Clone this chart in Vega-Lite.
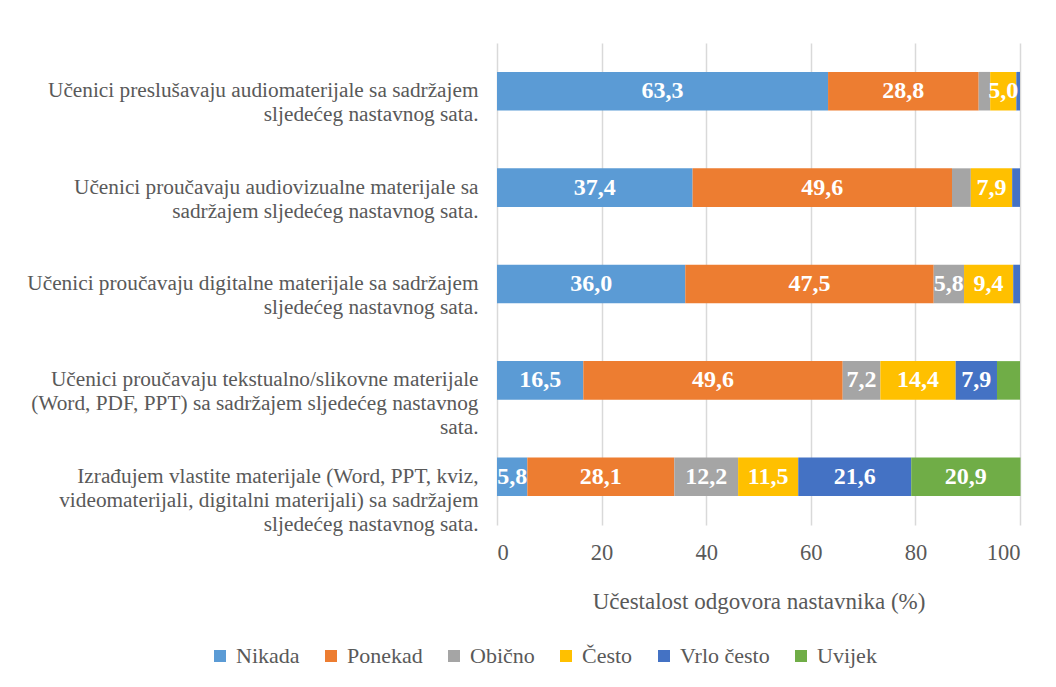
{
  "$schema": "https://vega.github.io/schema/vega-lite/v6.json",
  "width": 523,
  "height": 482,
  "autosize": {"type": "none"},
  "padding": {"left": 497, "top": 43, "right": 36, "bottom": 162},
  "background": "white",
  "config": {
    "view": {"stroke": null},
    "font": "Liberation Serif",
    "locale": {"number": {"decimal": ",", "thousands": ".", "grouping": [3], "currency": ["", " €"]}}
  },
  "data": {
    "values": [
      {"cat": "Učenici preslušavaju audiomaterijale sa sadržajem sljedećeg nastavnog sata.", "series": "Nikada", "rank": 1, "value": 63.3},
      {"cat": "Učenici preslušavaju audiomaterijale sa sadržajem sljedećeg nastavnog sata.", "series": "Ponekad", "rank": 2, "value": 28.8},
      {"cat": "Učenici preslušavaju audiomaterijale sa sadržajem sljedećeg nastavnog sata.", "series": "Obično", "rank": 3, "value": 2.2},
      {"cat": "Učenici preslušavaju audiomaterijale sa sadržajem sljedećeg nastavnog sata.", "series": "Često", "rank": 4, "value": 5.0},
      {"cat": "Učenici preslušavaju audiomaterijale sa sadržajem sljedećeg nastavnog sata.", "series": "Vrlo često", "rank": 5, "value": 0.7},
      {"cat": "Učenici preslušavaju audiomaterijale sa sadržajem sljedećeg nastavnog sata.", "series": "Uvijek", "rank": 6, "value": 0},
      {"cat": "Učenici proučavaju audiovizualne materijale sa sadržajem sljedećeg nastavnog sata.", "series": "Nikada", "rank": 1, "value": 37.4},
      {"cat": "Učenici proučavaju audiovizualne materijale sa sadržajem sljedećeg nastavnog sata.", "series": "Ponekad", "rank": 2, "value": 49.6},
      {"cat": "Učenici proučavaju audiovizualne materijale sa sadržajem sljedećeg nastavnog sata.", "series": "Obično", "rank": 3, "value": 3.6},
      {"cat": "Učenici proučavaju audiovizualne materijale sa sadržajem sljedećeg nastavnog sata.", "series": "Često", "rank": 4, "value": 7.9},
      {"cat": "Učenici proučavaju audiovizualne materijale sa sadržajem sljedećeg nastavnog sata.", "series": "Vrlo često", "rank": 5, "value": 1.5},
      {"cat": "Učenici proučavaju audiovizualne materijale sa sadržajem sljedećeg nastavnog sata.", "series": "Uvijek", "rank": 6, "value": 0},
      {"cat": "Učenici proučavaju digitalne materijale sa sadržajem sljedećeg nastavnog sata.", "series": "Nikada", "rank": 1, "value": 36.0},
      {"cat": "Učenici proučavaju digitalne materijale sa sadržajem sljedećeg nastavnog sata.", "series": "Ponekad", "rank": 2, "value": 47.5},
      {"cat": "Učenici proučavaju digitalne materijale sa sadržajem sljedećeg nastavnog sata.", "series": "Obično", "rank": 3, "value": 5.8},
      {"cat": "Učenici proučavaju digitalne materijale sa sadržajem sljedećeg nastavnog sata.", "series": "Često", "rank": 4, "value": 9.4},
      {"cat": "Učenici proučavaju digitalne materijale sa sadržajem sljedećeg nastavnog sata.", "series": "Vrlo često", "rank": 5, "value": 1.3},
      {"cat": "Učenici proučavaju digitalne materijale sa sadržajem sljedećeg nastavnog sata.", "series": "Uvijek", "rank": 6, "value": 0},
      {"cat": "Učenici proučavaju tekstualno/slikovne materijale (Word, PDF, PPT) sa sadržajem sljedećeg nastavnog sata.", "series": "Nikada", "rank": 1, "value": 16.5},
      {"cat": "Učenici proučavaju tekstualno/slikovne materijale (Word, PDF, PPT) sa sadržajem sljedećeg nastavnog sata.", "series": "Ponekad", "rank": 2, "value": 49.6},
      {"cat": "Učenici proučavaju tekstualno/slikovne materijale (Word, PDF, PPT) sa sadržajem sljedećeg nastavnog sata.", "series": "Obično", "rank": 3, "value": 7.2},
      {"cat": "Učenici proučavaju tekstualno/slikovne materijale (Word, PDF, PPT) sa sadržajem sljedećeg nastavnog sata.", "series": "Često", "rank": 4, "value": 14.4},
      {"cat": "Učenici proučavaju tekstualno/slikovne materijale (Word, PDF, PPT) sa sadržajem sljedećeg nastavnog sata.", "series": "Vrlo često", "rank": 5, "value": 7.9},
      {"cat": "Učenici proučavaju tekstualno/slikovne materijale (Word, PDF, PPT) sa sadržajem sljedećeg nastavnog sata.", "series": "Uvijek", "rank": 6, "value": 4.4},
      {"cat": "Izrađujem vlastite materijale (Word, PPT, kviz, videomaterijali, digitalni materijali) sa sadržajem sljedećeg nastavnog sata.", "series": "Nikada", "rank": 1, "value": 5.8},
      {"cat": "Izrađujem vlastite materijale (Word, PPT, kviz, videomaterijali, digitalni materijali) sa sadržajem sljedećeg nastavnog sata.", "series": "Ponekad", "rank": 2, "value": 28.1},
      {"cat": "Izrađujem vlastite materijale (Word, PPT, kviz, videomaterijali, digitalni materijali) sa sadržajem sljedećeg nastavnog sata.", "series": "Obično", "rank": 3, "value": 12.2},
      {"cat": "Izrađujem vlastite materijale (Word, PPT, kviz, videomaterijali, digitalni materijali) sa sadržajem sljedećeg nastavnog sata.", "series": "Često", "rank": 4, "value": 11.5},
      {"cat": "Izrađujem vlastite materijale (Word, PPT, kviz, videomaterijali, digitalni materijali) sa sadržajem sljedećeg nastavnog sata.", "series": "Vrlo često", "rank": 5, "value": 21.6},
      {"cat": "Izrađujem vlastite materijale (Word, PPT, kviz, videomaterijali, digitalni materijali) sa sadržajem sljedećeg nastavnog sata.", "series": "Uvijek", "rank": 6, "value": 20.9}
    ]
  },
  "encoding": {
    "y": {
      "field": "cat",
      "type": "nominal",
      "sort": [
        "Učenici preslušavaju audiomaterijale sa sadržajem sljedećeg nastavnog sata.",
        "Učenici proučavaju audiovizualne materijale sa sadržajem sljedećeg nastavnog sata.",
        "Učenici proučavaju digitalne materijale sa sadržajem sljedećeg nastavnog sata.",
        "Učenici proučavaju tekstualno/slikovne materijale (Word, PDF, PPT) sa sadržajem sljedećeg nastavnog sata.",
        "Izrađujem vlastite materijale (Word, PPT, kviz, videomaterijali, digitalni materijali) sa sadržajem sljedećeg nastavnog sata."
      ],
      "scale": {"paddingInner": 0.6, "paddingOuter": 0.3},
      "axis": {
        "title": null,
        "domain": false,
        "ticks": false,
        "grid": false,
        "labelAlign": "right",
        "labelBaseline": "middle",
        "labelPadding": 19,
        "labelFont": "Liberation Serif",
        "labelFontSize": 21.3,
        "labelLineHeight": 24,
        "labelColor": "#595959",
        "labelLimit": 0,
        "labelExpr": "({'Učenici preslušavaju audiomaterijale sa sadržajem sljedećeg nastavnog sata.': ['Učenici preslušavaju audiomaterijale sa sadržajem', 'sljedećeg nastavnog sata.'], 'Učenici proučavaju audiovizualne materijale sa sadržajem sljedećeg nastavnog sata.': ['Učenici proučavaju audiovizualne materijale sa', 'sadržajem sljedećeg nastavnog sata.'], 'Učenici proučavaju digitalne materijale sa sadržajem sljedećeg nastavnog sata.': ['Učenici proučavaju digitalne materijale sa sadržajem', 'sljedećeg nastavnog sata.'], 'Učenici proučavaju tekstualno/slikovne materijale (Word, PDF, PPT) sa sadržajem sljedećeg nastavnog sata.': ['Učenici proučavaju tekstualno/slikovne materijale', '(Word, PDF, PPT) sa sadržajem sljedećeg nastavnog', 'sata.'], 'Izrađujem vlastite materijale (Word, PPT, kviz, videomaterijali, digitalni materijali) sa sadržajem sljedećeg nastavnog sata.': ['Izrađujem vlastite materijale (Word, PPT, kviz,', 'videomaterijali, digitalni materijali) sa sadržajem', 'sljedećeg nastavnog sata.']})[datum.value]"
      }
    },
    "x": {
      "field": "value",
      "type": "quantitative",
      "stack": "zero",
      "scale": {"domain": [0, 100], "nice": false},
      "axis": {
        "values": [0, 20, 40, 60, 80, 100],
        "format": "d",
        "grid": true,
        "gridColor": "#D9D9D9",
        "gridWidth": 1.5,
        "domain": false,
        "ticks": false,
        "labelPadding": 16,
        "labelFont": "Liberation Serif",
        "labelFontSize": 22.5,
        "labelColor": "#595959",
        "title": "Učestalost odgovora nastavnika (%)",
        "titleFont": "Liberation Serif",
        "titleFontSize": 23,
        "titleFontWeight": "normal",
        "titleColor": "#595959",
        "titlePadding": 27
      }
    }
  },
  "layer": [
    {
      "mark": {"type": "bar"},
      "encoding": {
        "color": {
          "field": "series",
          "type": "nominal",
          "scale": {
            "domain": ["Nikada", "Ponekad", "Obično", "Često", "Vrlo često", "Uvijek"],
            "range": ["#5B9BD5", "#ED7D31", "#A5A5A5", "#FFC000", "#4472C4", "#70AD47"]
          },
          "legend": {
            "orient": "none",
            "direction": "horizontal",
            "legendX": -288,
            "legendY": 602,
            "title": null,
            "symbolType": "square",
            "symbolSize": 144,
            "symbolStrokeWidth": 0,
            "symbolOpacity": 1,
            "labelFont": "Liberation Serif",
            "labelFontSize": 22,
            "labelColor": "#595959",
            "columnPadding": 20,
            "labelOffset": 5,
            "padding": 0
          }
        },
        "order": {"field": "rank", "type": "quantitative"}
      }
    },
    {
      "mark": {"type": "text", "font": "Liberation Serif", "fontWeight": "bold", "fontSize": 24, "color": "white", "baseline": "middle", "align": "center"},
      "encoding": {
        "x": {"field": "value", "type": "quantitative", "stack": "zero", "bandPosition": 0.5},
        "detail": {"field": "series", "type": "nominal"},
        "order": {"field": "rank", "type": "quantitative"},
        "text": {"field": "value", "type": "quantitative", "format": ".1f"},
        "opacity": {"condition": {"test": "datum.value >= 5", "value": 1}, "value": 0}
      }
    }
  ]
}
